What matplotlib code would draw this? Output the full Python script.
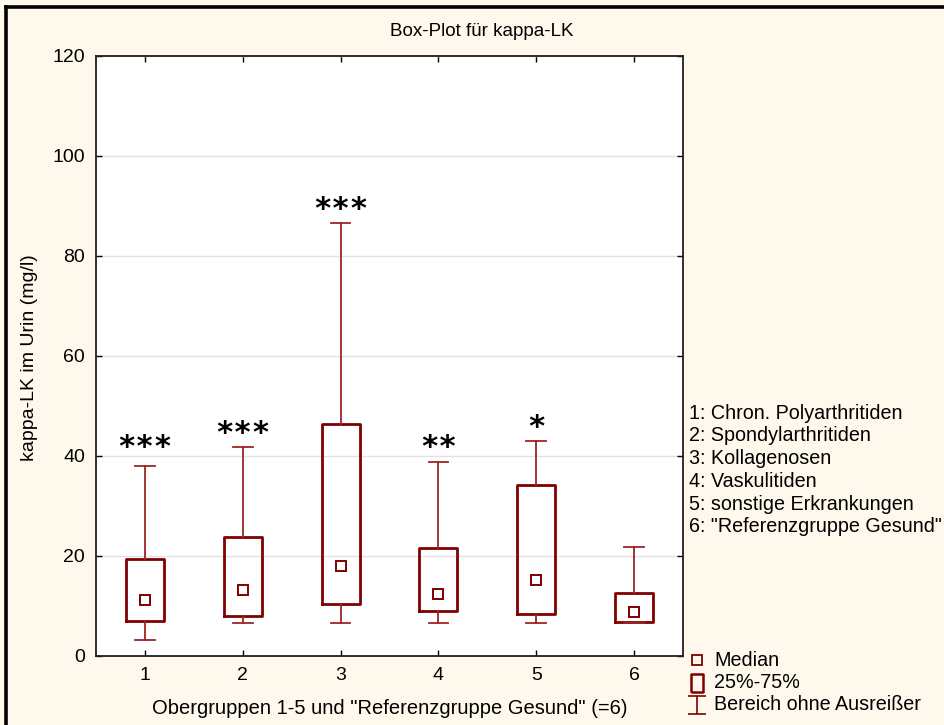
import numpy as np
import matplotlib.pyplot as plt
from matplotlib.lines import Line2D
from matplotlib.path import Path

plt.rcParams['font.family'] = ['Liberation Sans', 'DejaVu Sans']

# ── Data ──────────────────────────────────────────────────────
groups   = [1, 2, 3, 4, 5, 6]
whislo   = [3.3, 6.7, 6.7, 6.7, 6.7, 6.7]
q1       = [7.1, 8.0, 10.5, 9.0, 8.5, 6.8]
medians  = [11.2, 13.3, 18.1, 12.4, 15.3, 8.8]
q3       = [19.5, 23.9, 46.4, 21.6, 34.3, 12.7]
whishi   = [38.0, 41.8, 86.7, 38.9, 43.0, 21.9]
signif   = ["***", "***", "***", "**", "*", ""]
signif_y = [42.7, 45.5, 90.2, 42.7, 46.7, 0]     # centre of the asterisks
group_names = ["1: Chron. Polyarthritiden", "2: Spondylarthritiden",
               "3: Kollagenosen", "4: Vaskulitiden",
               "5: sonstige Erkrankungen", '6: "Referenzgruppe Gesund"']
legend_labels = ["Median", "25%-75%", "Bereich ohne Ausreißer"]

BG    = "#FFF9ED"
DARK  = "#800000"
WHISK = "#9E2424"
W, H  = 945, 725
FS    = 14

fig = plt.figure(figsize=(W / 100, H / 100), dpi=100, facecolor=BG)
ax = fig.add_axes([96 / W, (H - 656) / H, 587 / W, 600 / H])
ax.set_facecolor("white")

stats = [dict(med=m, q1=a, q3=b, whislo=lo, whishi=hi, fliers=[], label=str(g))
         for g, m, a, b, lo, hi in zip(groups, medians, q1, q3, whislo, whishi)]
ax.bxp(stats, positions=groups, widths=0.39, capwidths=0.2,
       showfliers=False, patch_artist=False,
       boxprops=dict(color=DARK, lw=2.0),
       whiskerprops=dict(color=WHISK, lw=1.3),
       capprops=dict(color=WHISK, lw=1.3),
       medianprops=dict(lw=0))
ax.plot(groups, medians, ls="none", marker="s", ms=7.5, mfc="white",
        mec=DARK, mew=1.4, zorder=5)

# asterisks: baseline sits ~2.6 units below the glyph centre
for g, yc, s in zip(groups, signif_y, signif):
    if s:
        ax.text(g, yc - 2.6, s, ha="center", va="baseline", fontsize=22,
                family="DejaVu Sans Mono", weight="bold", color="black")

ax.set_xlim(0.5, 6.5)
ax.set_ylim(0, 120)
ax.set_xticks(groups)
ax.set_yticks(np.arange(0, 121, 20))
ax.yaxis.grid(True, color="#E2E2E2", lw=1)
ax.set_axisbelow(True)
ax.tick_params(direction="in", length=4, width=1, top=True, right=True,
               labelsize=FS, colors="black")
ax.tick_params(axis="y", pad=8)
ax.tick_params(axis="x", pad=8)
for sp in ax.spines.values():
    sp.set_linewidth(1.3)
    sp.set_color("#202020")

# ── Titles / axis labels ──────────────────────────────────────
fig.text(482 / W, 1 - 31 / H, "Box-Plot für kappa-LK", ha="center", va="center",
         fontsize=13.5)
fig.text(390 / W, 1 - 709 / H, 'Obergruppen 1-5 und "Referenzgruppe Gesund" (=6)',
         ha="center", va="center", fontsize=14.5)
fig.text(30 / W, 1 - 358 / H, "kappa-LK im Urin (mg/l)", rotation=90,
         ha="center", va="center", fontsize=14)

# ── Group name legend ─────────────────────────────────────────
for i, name in enumerate(group_names):
    fig.text(689 / W, 1 - (413 + i * 22.8) / H, name, ha="left", va="center",
             fontsize=14.2)

# ── Symbol legend ─────────────────────────────────────────────
rect = Path([(-0.33, -0.5), (0.33, -0.5), (0.33, 0.5), (-0.33, 0.5), (-0.33, -0.5)])
ibeam = Path([(-0.5, -0.5), (0.5, -0.5), (0, -0.5), (0, 0.5), (-0.5, 0.5), (0.5, 0.5)],
             [Path.MOVETO, Path.LINETO, Path.MOVETO, Path.LINETO, Path.MOVETO, Path.LINETO])
symbols = [dict(marker="s", ms=6.5, mew=1.3, mfc="none"),
           dict(marker=rect, ms=12.5, mew=1.8, mfc="none"),
           dict(marker=ibeam, ms=12.5, mew=1.2, mfc="none")]
for i, (lab, sym) in enumerate(zip(legend_labels, symbols)):
    yy = 1 - (660 + i * 22.5) / H
    fig.add_artist(Line2D([697 / W], [yy], transform=fig.transFigure,
                          ls="none", mec=DARK, **sym))
    fig.text(714 / W, yy, lab, ha="left", va="center", fontsize=14.2)

# ── Outer frame (top and left edges) ──────────────────────────
fig.add_artist(Line2D([6.5 / W, 6.5 / W], [0, 1 - 6.5 / H], transform=fig.transFigure,
                      color="black", lw=2.6, solid_capstyle="projecting"))
fig.add_artist(Line2D([6.5 / W, 1], [1 - 6.5 / H, 1 - 6.5 / H], transform=fig.transFigure,
                      color="black", lw=2.6, solid_capstyle="projecting"))

fig.savefig("out.png", dpi=100, facecolor=BG)
